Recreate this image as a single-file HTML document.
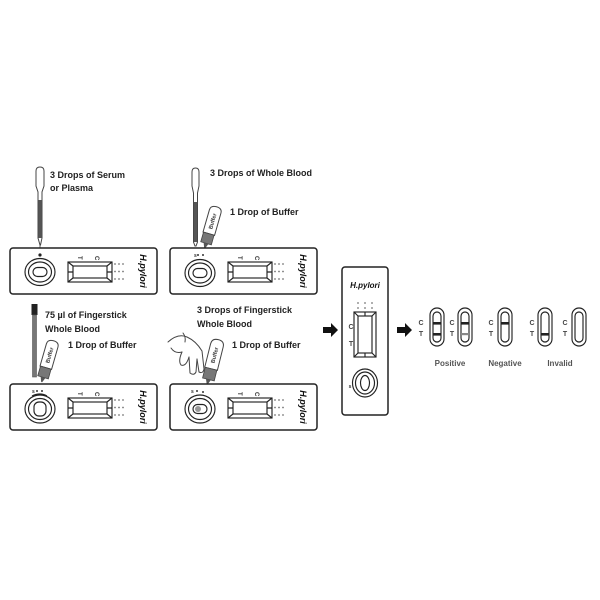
<!DOCTYPE html>
<html>
<head>
<meta charset="utf-8">
<style>
html,body{margin:0;padding:0;background:#fff;}
svg{display:block;}
text{font-family:"Liberation Sans",Arial,sans-serif;}
.lbl{font-size:9px;font-weight:bold;fill:#222;}
.dev{fill:#fff;stroke:#222;stroke-width:1.5;}
.ln{fill:none;stroke:#222;stroke-width:1.15;}
.tc{font-size:6px;font-weight:bold;fill:#333;}
.hp{font-size:9px;font-weight:bold;font-style:italic;fill:#111;}
.res{font-size:8px;font-weight:bold;fill:#555;}
.ct{font-size:7px;font-weight:bold;fill:#444;}
.buf{font-size:5.5px;font-weight:bold;fill:#333;}
</style>
</head>
<body>
<svg width="600" height="600" viewBox="0 0 600 600" xmlns="http://www.w3.org/2000/svg">
<rect width="600" height="600" fill="#fff"/>

<!-- ============ TOP LEFT ============ -->
<path d="M36,186 L36,171 Q36,167 40,167 Q44,167 44,171 L44,186 L42,192 L42,238 L40.5,245 L40,245 L38,238 L38,192 Z" fill="#fff" stroke="#444" stroke-width="1"/>
<rect x="38.3" y="200" width="3.5" height="38" fill="#555"/>
<line x1="40" y1="245" x2="40" y2="249" stroke="#444" stroke-width="0.8"/>
<text class="lbl" x="50" y="178">3 Drops of Serum</text>
<text class="lbl" x="50" y="191">or Plasma</text>
<g transform="translate(10,248)">
  <rect class="dev" x="0" y="0" width="147" height="46" rx="3"/>
  <ellipse class="ln" cx="30" cy="24" rx="15" ry="13.5"/>
  <ellipse class="ln" cx="30" cy="24" rx="11.5" ry="10"/>
  <rect class="ln" x="23" y="19.5" width="14" height="9" rx="4.5"/>
  <circle cx="30" cy="7" r="1.6" fill="#222"/>
  <rect class="ln" x="58" y="14" width="44" height="20"/>
  <rect class="ln" x="63" y="18" width="34" height="12"/>
  <path class="ln" d="M58,14 L63,18 M102,14 L97,18 M58,34 L63,30 M102,34 L97,30 M58,24 L63,24 M97,24 L102,24" stroke-width="0.7"/>
  <text class="tc" x="68" y="8" transform="rotate(90,68,8)">T</text>
  <text class="tc" x="85" y="8" transform="rotate(90,85,8)">C</text>
  <g fill="#777"><circle cx="105" cy="16" r="0.9"/><circle cx="109" cy="16" r="0.9"/><circle cx="113" cy="16" r="0.9"/><circle cx="105" cy="23.5" r="0.9"/><circle cx="109" cy="23.5" r="0.9"/><circle cx="113" cy="23.5" r="0.9"/><circle cx="105" cy="31" r="0.9"/><circle cx="109" cy="31" r="0.9"/><circle cx="113" cy="31" r="0.9"/></g>
  <text class="hp" x="130" y="23" text-anchor="middle" transform="rotate(90,130,23)">H.pylori</text>
</g>

<!-- ============ TOP MIDDLE ============ -->
<path d="M192,186 L192,172 Q192,168 195.5,168 Q199,168 199,172 L199,186 L197.5,193 L197.5,242 L196,246 L195,246 L193.5,242 L193.5,193 Z" fill="#fff" stroke="#444" stroke-width="1"/>
<rect x="193.8" y="202" width="3.4" height="40" fill="#555"/>
<circle cx="196" cy="250" r="1.4" fill="#555"/>
<g transform="translate(211,226) rotate(16)">
  <path d="M-6,8 L-6,-15 Q-6,-20 0,-20 Q6,-20 6,-15 L6,8 Z" fill="#fff" stroke="#444" stroke-width="1"/>
  <rect x="-5.5" y="8" width="11" height="10" fill="#777" stroke="#444" stroke-width="0.8"/>
  <path d="M-2.5,18 L2.5,18 L0.5,23 L-0.5,23 Z" fill="#555"/>
  <text class="buf" x="0" y="-5" text-anchor="middle" transform="rotate(-90,0,-5) translate(0,2)">Buffer</text>
</g>
<circle cx="205" cy="251" r="1.8" fill="#666"/>
<text class="lbl" x="210" y="176">3 Drops of Whole Blood</text>
<text class="lbl" x="230" y="215">1 Drop of Buffer</text>
<g transform="translate(170,248)">
  <rect class="dev" x="0" y="0" width="147" height="46" rx="3"/>
  <ellipse class="ln" cx="30" cy="25" rx="15" ry="13.5"/>
  <ellipse class="ln" cx="30" cy="25" rx="11.5" ry="10"/>
  <rect class="ln" x="23" y="20.5" width="14" height="9" rx="4.5"/>
  <text x="24" y="9" style="font-size:5px;font-weight:bold;fill:#333">s</text>
  <circle cx="28" cy="7" r="1" fill="#333"/><circle cx="33" cy="7" r="1" fill="#333"/>
  <rect class="ln" x="58" y="14" width="44" height="20"/>
  <rect class="ln" x="63" y="18" width="34" height="12"/>
  <path class="ln" d="M58,14 L63,18 M102,14 L97,18 M58,34 L63,30 M102,34 L97,30 M58,24 L63,24 M97,24 L102,24" stroke-width="0.7"/>
  <text class="tc" x="68" y="8" transform="rotate(90,68,8)">T</text>
  <text class="tc" x="85" y="8" transform="rotate(90,85,8)">C</text>
  <g fill="#777"><circle cx="105" cy="16" r="0.9"/><circle cx="109" cy="16" r="0.9"/><circle cx="113" cy="16" r="0.9"/><circle cx="105" cy="23.5" r="0.9"/><circle cx="109" cy="23.5" r="0.9"/><circle cx="113" cy="23.5" r="0.9"/><circle cx="105" cy="31" r="0.9"/><circle cx="109" cy="31" r="0.9"/><circle cx="113" cy="31" r="0.9"/></g>
  <text class="hp" x="130" y="23" text-anchor="middle" transform="rotate(90,130,23)">H.pylori</text>
</g>

<!-- ============ BOTTOM LEFT ============ -->
<rect x="31.5" y="304" width="6" height="11" fill="#222"/>
<rect x="32.5" y="315" width="4" height="62" fill="#777" stroke="#555" stroke-width="0.6"/>
<g transform="translate(48,360) rotate(16)">
  <path d="M-6,8 L-6,-15 Q-6,-20 0,-20 Q6,-20 6,-15 L6,8 Z" fill="#fff" stroke="#444" stroke-width="1"/>
  <rect x="-5.5" y="8" width="11" height="10" fill="#777" stroke="#444" stroke-width="0.8"/>
  <path d="M-2.5,18 L2.5,18 L0.5,23 L-0.5,23 Z" fill="#555"/>
  <text class="buf" x="0" y="-5" text-anchor="middle" transform="rotate(-90,0,-5) translate(0,2)">Buffer</text>
</g>
<text class="lbl" x="45" y="318">75 µl of Fingerstick</text>
<text class="lbl" x="45" y="332">Whole Blood</text>
<text class="lbl" x="68" y="348">1 Drop of Buffer</text>
<g transform="translate(10,384)">
  <rect class="dev" x="0" y="0" width="147" height="46" rx="3"/>
  <ellipse class="ln" cx="30" cy="25" rx="15" ry="14"/>
  <ellipse class="ln" cx="30" cy="25" rx="11.5" ry="10.5"/>
  <rect class="ln" x="24" y="18" width="12" height="14" rx="5"/>
  <text x="22" y="9" style="font-size:5px;font-weight:bold;fill:#333">s</text>
  <circle cx="27" cy="7" r="1" fill="#333"/><circle cx="32" cy="7" r="1" fill="#333"/>
  <path class="ln" d="M22,12 Q30,8 37,12" stroke-width="0.7"/>
  <rect class="ln" x="58" y="14" width="44" height="20"/>
  <rect class="ln" x="63" y="18" width="34" height="12"/>
  <path class="ln" d="M58,14 L63,18 M102,14 L97,18 M58,34 L63,30 M102,34 L97,30 M58,24 L63,24 M97,24 L102,24" stroke-width="0.7"/>
  <text class="tc" x="68" y="8" transform="rotate(90,68,8)">T</text>
  <text class="tc" x="85" y="8" transform="rotate(90,85,8)">C</text>
  <g fill="#777"><circle cx="105" cy="16" r="0.9"/><circle cx="109" cy="16" r="0.9"/><circle cx="113" cy="16" r="0.9"/><circle cx="105" cy="23.5" r="0.9"/><circle cx="109" cy="23.5" r="0.9"/><circle cx="113" cy="23.5" r="0.9"/><circle cx="105" cy="31" r="0.9"/><circle cx="109" cy="31" r="0.9"/><circle cx="113" cy="31" r="0.9"/></g>
  <text class="hp" x="130" y="23" text-anchor="middle" transform="rotate(90,130,23)">H.pylori</text>
</g>

<!-- ============ BOTTOM MIDDLE ============ -->
<g fill="#fff" stroke="#444" stroke-width="1" stroke-linejoin="round" stroke-linecap="round">
  <path d="M168,342 Q178,333 187,337 Q196,341 202,351 L204,369 Q203,374 199,372 L197,359"/>
  <path d="M197,359 L196,372 Q194,376 190,373 L189,357"/>
  <path d="M189,357 Q186,367 181,365 Q178,361 182,352"/>
  <path d="M182,352 Q175,354 171,348"/>
  <path d="M183,333 Q186,337 185,342" fill="none"/>
</g>
<g transform="translate(213,361) rotate(14)">
  <path d="M-6.5,8 L-6.5,-16 Q-6.5,-22 0,-22 Q6.5,-22 6.5,-16 L6.5,8 Z" fill="#fff" stroke="#444" stroke-width="1"/>
  <rect x="-6" y="8" width="12" height="11" fill="#777" stroke="#444" stroke-width="0.8"/>
  <path d="M-2.5,19 L2.5,19 L0.5,24 L-0.5,24 Z" fill="#555"/>
  <text class="buf" x="0" y="-6" text-anchor="middle" transform="rotate(-90,0,-6) translate(0,2)">Buffer</text>
</g>
<text class="lbl" x="197" y="313">3 Drops of Fingerstick</text>
<text class="lbl" x="197" y="327">Whole Blood</text>
<text class="lbl" x="232" y="348">1 Drop of Buffer</text>
<g transform="translate(170,384)">
  <rect class="dev" x="0" y="0" width="147" height="46" rx="3"/>
  <ellipse class="ln" cx="30" cy="25" rx="15" ry="14"/>
  <ellipse class="ln" cx="30" cy="25" rx="11.5" ry="10.5"/>
  <rect class="ln" x="23" y="20.5" width="14" height="9" rx="4.5"/>
  <rect x="25" y="22" width="6" height="6" rx="3" fill="#999"/>
  <text x="21" y="9" style="font-size:5px;font-weight:bold;fill:#333">s</text>
  <circle cx="27" cy="7" r="1" fill="#333"/><circle cx="33" cy="8" r="1" fill="#333"/>
  <rect class="ln" x="58" y="14" width="44" height="20"/>
  <rect class="ln" x="63" y="18" width="34" height="12"/>
  <path class="ln" d="M58,14 L63,18 M102,14 L97,18 M58,34 L63,30 M102,34 L97,30 M58,24 L63,24 M97,24 L102,24" stroke-width="0.7"/>
  <text class="tc" x="68" y="8" transform="rotate(90,68,8)">T</text>
  <text class="tc" x="85" y="8" transform="rotate(90,85,8)">C</text>
  <g fill="#777"><circle cx="105" cy="16" r="0.9"/><circle cx="109" cy="16" r="0.9"/><circle cx="113" cy="16" r="0.9"/><circle cx="105" cy="23.5" r="0.9"/><circle cx="109" cy="23.5" r="0.9"/><circle cx="113" cy="23.5" r="0.9"/><circle cx="105" cy="31" r="0.9"/><circle cx="109" cy="31" r="0.9"/><circle cx="113" cy="31" r="0.9"/></g>
  <text class="hp" x="130" y="23" text-anchor="middle" transform="rotate(90,130,23)">H.pylori</text>
</g>

<!-- ============ ARROWS ============ -->
<path d="M323,327 L331,327 L331,323 L338,330 L331,337 L331,333 L323,333 Z" fill="#111"/>
<path d="M397,327 L405,327 L405,323 L412,330 L405,337 L405,333 L397,333 Z" fill="#111"/>

<!-- ============ VERTICAL DEVICE ============ -->
<g transform="translate(342,267)">
  <rect class="dev" x="0" y="0" width="46" height="148" rx="3"/>
  <text class="hp" x="23" y="21" text-anchor="middle" style="font-size:8px">H.pylori</text>
  <g fill="#777"><circle cx="16" cy="36" r="0.9"/><circle cx="23" cy="36" r="0.9"/><circle cx="30" cy="36" r="0.9"/><circle cx="16" cy="41" r="0.9"/><circle cx="23" cy="41" r="0.9"/><circle cx="30" cy="41" r="0.9"/></g>
  <rect class="ln" x="12" y="45" width="22" height="45"/>
  <rect class="ln" x="16" y="49" width="14" height="37"/>
  <path class="ln" d="M12,45 L16,49 M34,45 L30,49 M12,90 L16,86 M34,90 L30,86 M23,45 L23,49 M23,86 L23,90" stroke-width="0.7"/>
  <text class="ct" x="9" y="62" text-anchor="middle">C</text>
  <text class="ct" x="9" y="79" text-anchor="middle">T</text>
  <ellipse class="ln" cx="23" cy="116" rx="12.5" ry="14"/>
  <ellipse class="ln" cx="23" cy="116" rx="9.5" ry="11"/>
  <ellipse class="ln" cx="23" cy="116" rx="4.5" ry="7.5" stroke-width="1.3"/>
  <text x="8" y="121" text-anchor="middle" style="font-size:5px;font-weight:bold;fill:#333">s</text>
</g>

<!-- ============ RESULTS ============ -->
<g>
  <rect class="ln" x="430" y="308" width="14" height="38" rx="7"/>
  <rect class="ln" x="433" y="312" width="8" height="30" rx="4"/>
  <rect x="433" y="322" width="8" height="2.6" fill="#222"/>
  <rect x="433" y="333" width="8" height="2.6" fill="#222"/>
  <text class="ct" x="421" y="325" text-anchor="middle">C</text>
  <text class="ct" x="421" y="336" text-anchor="middle">T</text>

  <rect class="ln" x="458" y="308" width="14" height="38" rx="7"/>
  <rect class="ln" x="461" y="312" width="8" height="30" rx="4"/>
  <rect x="461" y="322" width="8" height="2.6" fill="#222"/>
  <rect x="461" y="333" width="8" height="2.2" fill="#888"/>
  <text class="ct" x="452" y="325" text-anchor="middle">C</text>
  <text class="ct" x="452" y="336" text-anchor="middle">T</text>

  <rect class="ln" x="498" y="308" width="14" height="38" rx="7"/>
  <rect class="ln" x="501" y="312" width="8" height="30" rx="4"/>
  <rect x="501" y="322" width="8" height="2.6" fill="#222"/>
  <text class="ct" x="491" y="325" text-anchor="middle">C</text>
  <text class="ct" x="491" y="336" text-anchor="middle">T</text>

  <rect class="ln" x="538" y="308" width="14" height="38" rx="7"/>
  <rect class="ln" x="541" y="312" width="8" height="30" rx="4"/>
  <rect x="541" y="333" width="8" height="2.6" fill="#222"/>
  <text class="ct" x="532" y="325" text-anchor="middle">C</text>
  <text class="ct" x="532" y="336" text-anchor="middle">T</text>

  <rect class="ln" x="572" y="308" width="14" height="38" rx="7"/>
  <rect class="ln" x="575" y="312" width="8" height="30" rx="4"/>
  <text class="ct" x="565" y="325" text-anchor="middle">C</text>
  <text class="ct" x="565" y="336" text-anchor="middle">T</text>

  <text class="res" x="450" y="366" text-anchor="middle">Positive</text>
  <text class="res" x="505" y="366" text-anchor="middle">Negative</text>
  <text class="res" x="560" y="366" text-anchor="middle">Invalid</text>
</g>
</svg>
</body>
</html>
